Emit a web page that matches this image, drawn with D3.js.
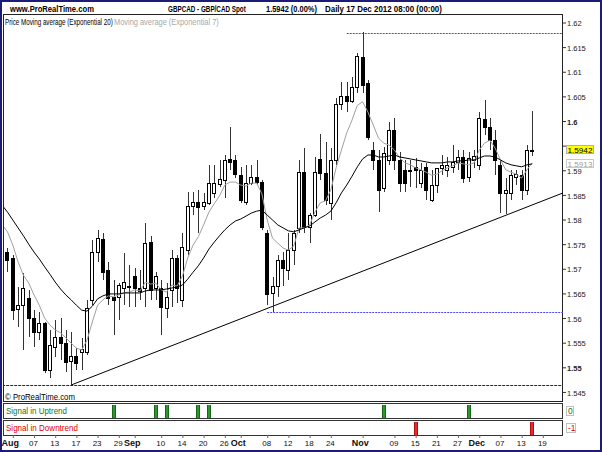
<!DOCTYPE html>
<html>
<head>
<meta charset="utf-8">
<script src="https://cdn.jsdelivr.net/npm/d3@7"></script>
<style>
  body { margin: 0; background: #fff; }
  svg { display: block; }
  text { font-family: "Liberation Sans", Arial, sans-serif; }
</style>
</head>
<body>
<div id="chart"></div>
<script>
// candles start on Jul 31 (index -1), index 0 = 1 Aug 2012, one index per trading day
const candleStart = -1;
const openP = [1.5734,1.5722,1.5618,1.5626,1.5641,1.5600,1.5572,1.5590,1.5495,1.5541,
  1.5562,1.5549,1.5513,1.5523,1.5531,1.5531,1.5637,1.5734,1.5760,1.5698,
  1.5643,1.5643,1.5661,1.5663,1.5685,1.5661,1.5661,1.5754,1.5661,1.5661,
  1.5620,1.5657,1.5722,1.5637,1.5738,1.5827,1.5836,1.5827,1.5834,1.5854,
  1.5872,1.5880,1.5923,1.5921,1.5890,1.5836,1.5874,1.5886,1.5876,1.5773,
  1.5651,1.5665,1.5718,1.5698,1.5738,1.5783,1.5896,1.5785,1.5809,1.5923,
  1.5894,1.5834,1.5921,1.6035,1.6051,1.6041,1.6069,1.6130,1.6077,1.5941,
  1.5921,1.5864,1.5921,1.5982,1.5921,1.5901,1.5901,1.5907,1.5874,1.5907,
  1.5840,1.5870,1.5905,1.5901,1.5907,1.5917,1.5927,1.5886,1.5921,1.5911,
  1.6004,1.5988,1.5961,1.5911,1.5854,1.5854,1.5886,1.5890,1.5860,1.5942];
const highP = [1.5742,1.5728,1.5663,1.5691,1.5657,1.5616,1.5612,1.5592,1.5576,1.5596,
  1.5600,1.5576,1.5572,1.5539,1.5560,1.5637,1.5758,1.5779,1.5773,1.5714,
  1.5677,1.5671,1.5732,1.5708,1.5702,1.5698,1.5793,1.5767,1.5693,1.5677,
  1.5671,1.5738,1.5728,1.5773,1.5856,1.5856,1.5860,1.5854,1.5911,1.5911,
  1.5921,1.5931,1.5988,1.5931,1.5907,1.5911,1.5911,1.5921,1.5880,1.5779,
  1.5683,1.5728,1.5734,1.5773,1.5779,1.5921,1.5945,1.5813,1.5927,1.5974,
  1.5957,1.5945,1.6047,1.6079,1.6079,1.6089,1.6138,1.6181,1.6083,1.5957,
  1.5941,1.5947,1.5998,1.6006,1.5937,1.5921,1.5921,1.5925,1.5915,1.5915,
  1.5901,1.5905,1.5931,1.5927,1.5951,1.5941,1.5941,1.5937,1.5941,1.6018,
  1.6043,1.6006,1.5982,1.5921,1.5884,1.5901,1.5901,1.5901,1.5951,1.6020];
const lowP = [1.5693,1.5596,1.5582,1.5535,1.5562,1.5541,1.5555,1.5488,1.5478,1.5521,
  1.5515,1.5490,1.5464,1.5495,1.5495,1.5525,1.5626,1.5714,1.5677,1.5626,
  1.5566,1.5596,1.5626,1.5622,1.5622,1.5637,1.5622,1.5637,1.5637,1.5566,
  1.5600,1.5622,1.5631,1.5622,1.5728,1.5809,1.5773,1.5819,1.5829,1.5844,
  1.5866,1.5844,1.5901,1.5884,1.5834,1.5829,1.5870,1.5870,1.5779,1.5626,
  1.5612,1.5643,1.5665,1.5677,1.5708,1.5773,1.5773,1.5752,1.5805,1.5880,
  1.5829,1.5799,1.5911,1.6022,1.6018,1.6037,1.6057,1.6057,1.5961,1.5901,
  1.5815,1.5856,1.5911,1.5901,1.5856,1.5856,1.5866,1.5864,1.5864,1.5840,
  1.5836,1.5854,1.5890,1.5886,1.5894,1.5901,1.5874,1.5876,1.5905,1.5901,
  1.5972,1.5941,1.5890,1.5813,1.5811,1.5840,1.5870,1.5840,1.5850,1.5929];
const closeP = [1.5718,1.5616,1.5626,1.5661,1.5600,1.5572,1.5590,1.5495,1.5545,1.5562,
  1.5549,1.5511,1.5523,1.5509,1.5537,1.5620,1.5734,1.5762,1.5693,1.5641,
  1.5637,1.5667,1.5673,1.5665,1.5661,1.5655,1.5752,1.5657,1.5685,1.5622,
  1.5643,1.5722,1.5661,1.5744,1.5827,1.5836,1.5825,1.5836,1.5874,1.5874,
  1.5882,1.5921,1.5917,1.5892,1.5840,1.5874,1.5886,1.5876,1.5785,1.5649,
  1.5665,1.5718,1.5702,1.5738,1.5773,1.5896,1.5785,1.5809,1.5896,1.5894,
  1.5840,1.5921,1.6035,1.6051,1.6041,1.6069,1.6132,1.6073,1.5968,1.5921,
  1.5860,1.5935,1.5982,1.5921,1.5874,1.5874,1.5899,1.5901,1.5901,1.5860,
  1.5870,1.5905,1.5911,1.5911,1.5917,1.5927,1.5884,1.5925,1.5929,1.6006,
  1.5988,1.5961,1.5921,1.5854,1.5860,1.5890,1.5892,1.5860,1.5941,1.5942];

// moving averages, starting at index -2
const emaStart = -2;
const ema20 = [1.5829,1.5815,1.5799,1.5783,1.5767,1.5750,1.5734,1.5720,1.5704,1.5689,1.5673,1.5659,
  1.5647,1.5637,1.5626,1.5616,1.5614,1.5624,1.5639,1.5645,1.5649,1.5649,
  1.5649,1.5651,1.5651,1.5651,1.5651,1.5655,1.5657,1.5657,1.5657,1.5659,
  1.5661,1.5663,1.5667,1.5679,1.5693,1.5706,1.5722,1.5740,1.5754,1.5767,
  1.5779,1.5789,1.5797,1.5801,1.5807,1.5813,1.5817,1.5819,1.5809,1.5799,
  1.5789,1.5783,1.5777,1.5775,1.5779,1.5783,1.5787,1.5795,1.5803,1.5809,
  1.5817,1.5834,1.5854,1.5870,1.5888,1.5907,1.5923,1.5931,1.5931,1.5927,
  1.5927,1.5929,1.5931,1.5927,1.5925,1.5923,1.5921,1.5919,1.5917,1.5915,
  1.5915,1.5915,1.5917,1.5917,1.5919,1.5919,1.5921,1.5921,1.5925,1.5929,
  1.5929,1.5927,1.5921,1.5915,1.5911,1.5909,1.5907,1.5911,1.5913];
const ema7 = [1.5789,1.5775,1.5748,1.5714,1.5687,1.5671,1.5647,1.5626,1.5600,1.5586,1.5576,1.5570,
  1.5560,1.5549,1.5539,1.5535,1.5555,1.5592,1.5626,1.5637,1.5645,1.5643,
  1.5647,1.5651,1.5653,1.5657,1.5655,1.5673,1.5669,1.5671,1.5657,1.5653,
  1.5667,1.5665,1.5685,1.5722,1.5748,1.5765,1.5789,1.5815,1.5832,1.5848,
  1.5870,1.5876,1.5876,1.5870,1.5868,1.5874,1.5874,1.5852,1.5799,1.5762,
  1.5752,1.5742,1.5738,1.5746,1.5783,1.5783,1.5789,1.5815,1.5834,1.5838,
  1.5860,1.5905,1.5941,1.5976,1.6002,1.6032,1.6039,1.6018,1.5992,1.5965,
  1.5955,1.5951,1.5941,1.5925,1.5915,1.5911,1.5905,1.5901,1.5896,1.5890,
  1.5892,1.5899,1.5905,1.5909,1.5915,1.5913,1.5911,1.5915,1.5941,1.5955,
  1.5961,1.5945,1.5921,1.5901,1.5896,1.5892,1.5884,1.5901,1.5915];

// signal bars (candle index)
const upSignals = [19, 27, 29, 35, 37, 70, 86];
const downSignals = [76, 98];

// drawn objects
const trendIdx = [11, 103.8];
const trendPrice = [1.5464, 1.5854];
const levelPrice = [1.6179, 1.5612, 1.5464];
const levelFrom = [63, 48, -2];

// axes
const priceTicks = [1.545,1.55,1.555,1.56,1.565,1.57,1.575,1.58,1.585,1.59,1.595,1.6,1.605,1.61,1.615,1.62];
const boldTicks = [1.55, 1.6];
const coveredTick = 1.595;
const tickIdx = [0,4,8,12,16,20,23,28,32,36,40,43,48,52,56,60,66,72,76,80,84,88,92,96,100];
const tickLabels = ["Aug","07","13","17","23","29","Sep","10","14","20","26","Oct","08","12","18","24","Nov","09","15","21","27","Dec","07","13","19"];
const monthLabels = ["Aug","Sep","Oct","Nov","Dec"];
const lastPrice = 1.5942;
const lastAvg = 1.5913;

const W = 602, H = 452;
const plot = { left: 4, right: 563, top: 15, bottom: 401 };

const svg = d3.select("#chart").append("svg")
  .attr("width", W).attr("height", H);

svg.append("rect").attr("width", W).attr("height", H).attr("fill", "#fff");

const x = d3.scaleLinear().domain([-1.66, 103.8]).range([plot.left, plot.right]);
const y = d3.scaleLinear().domain([1.54316, 1.62152]).range([plot.bottom, plot.top]);

const defs = svg.append("defs");
defs.append("clipPath").attr("id", "plot-clip")
  .append("rect")
  .attr("x", plot.left).attr("y", plot.top)
  .attr("width", plot.right - plot.left).attr("height", plot.bottom - plot.top);

function barGradient(id, edge, mid) {
  const g = defs.append("linearGradient").attr("id", id).attr("x1", "0%").attr("x2", "100%");
  g.selectAll("stop")
    .data([{o: "0%", c: edge}, {o: "50%", c: mid}, {o: "100%", c: edge}])
    .join("stop")
    .attr("offset", d => d.o).attr("stop-color", d => d.c);
}
barGradient("grad-up", "#0b4f0b", "#38b038");
barGradient("grad-down", "#9a0000", "#ff3a3a");

// text squeezed horizontally to the width it has in the reference
function label(g, x0, y0, s, size, len, color, weight) {
  const t = g.append("text")
    .attr("font-size", size)
    .attr("fill", color || "#000")
    .attr("font-weight", weight || "normal")
    .text(s);
  let k = 1;
  if (len) k = len / t.node().getComputedTextLength();
  t.attr("transform", `translate(${x0},${y0}) scale(${k},1)`);
  return t;
}

// header
label(svg, 10, 11.5, "www.ProRealTime.com", 9.5, 84, "#000", "bold");
label(svg, 168, 11.5, "GBPCAD - GBP/CAD Spot", 9.5, 78, "#000", "bold");
label(svg, 266, 11.5, "1.5942 (0.00%)", 9.5, 51, "#000", "bold");
label(svg, 325, 11.5, "Daily  17 Dec 2012 08:00 (00:00)", 9.5, 117, "#000", "bold");

// plot frame
svg.append("rect")
  .attr("x", plot.left - 0.5).attr("y", plot.top - 0.5)
  .attr("width", plot.right - plot.left).attr("height", plot.bottom - plot.top + 1)
  .attr("fill", "none").attr("stroke", "#222");

const chart = svg.append("g").attr("clip-path", "url(#plot-clip)");

// horizontal levels
levelPrice.forEach((p, k) => {
  const yy = Math.round(y(p)) + 0.5;
  chart.append("line")
    .attr("x1", x(levelFrom[k])).attr("x2", plot.right)
    .attr("y1", yy).attr("y2", yy)
    .attr("stroke", k < 2 ? "#4a4aee" : "#1a1aa8")
    .attr("stroke-dasharray", k < 2 ? "2,1" : "3,1");
});

// trend line
chart.append("line")
  .attr("x1", x(trendIdx[0])).attr("y1", y(trendPrice[0]))
  .attr("x2", x(trendIdx[1])).attr("y2", y(trendPrice[1]))
  .attr("stroke", "#000").attr("stroke-width", 1);

// candles
const candles = openP.map((o, k) => ({
  i: candleStart + k, o, h: highP[k], l: lowP[k], c: closeP[k]
}));

const cg = chart.append("g").attr("shape-rendering", "crispEdges");
cg.selectAll("line.wick")
  .data(candles)
  .join("line")
  .attr("class", "wick")
  .attr("x1", d => Math.round(x(d.i)) + 0.5)
  .attr("x2", d => Math.round(x(d.i)) + 0.5)
  .attr("y1", d => y(d.h))
  .attr("y2", d => y(d.l))
  .attr("stroke", "#333");

cg.selectAll("rect.body")
  .data(candles)
  .join("rect")
  .attr("class", "body")
  .attr("x", d => Math.round(x(d.i)) - 1.5)
  .attr("width", 3)
  .attr("y", d => Math.round(y(Math.max(d.o, d.c))) + 0.5)
  .attr("height", d => Math.max(0.5, Math.round(Math.abs(y(d.o) - y(d.c)))))
  .attr("fill", d => d.c >= d.o ? "#fff" : "#000")
  .attr("stroke", "#000");

// moving averages
const emaLine = d3.line()
  .x((d, k) => x(emaStart + k))
  .y(d => y(d));

chart.append("path")
  .datum(ema7)
  .attr("d", emaLine)
  .attr("fill", "none")
  .attr("stroke", "#a0a0a0")
  .attr("stroke-width", 1);

chart.append("path")
  .datum(ema20)
  .attr("d", emaLine)
  .attr("fill", "none")
  .attr("stroke", "#000")
  .attr("stroke-width", 1);

// legend + copyright
label(svg, 5, 25, "Price Moving average (Exponential 20)", 8.5, 108);
label(svg, 114, 25, "Moving average (Exponential 7)", 8.5, 105, "#a8a8a8");
label(svg, 5, 399.5, "\u00a9 ProRealTime.com", 8.5, 70);

// price axis
const yAxis = d3.axisRight(y)
  .tickValues(priceTicks)
  .tickSize(3)
  .tickPadding(1)
  .tickFormat(d => String(d));

const ya = svg.append("g")
  .attr("transform", `translate(${plot.right},0)`)
  .attr("font-family", "Liberation Sans, Arial, sans-serif")
  .call(yAxis);
ya.select(".domain").remove();
ya.selectAll(".tick line").attr("stroke", "#333");
ya.selectAll(".tick text")
  .attr("font-size", 7.5)
  .attr("fill", "#222")
  .attr("dy", "0.42em")
  .attr("font-weight", d => boldTicks.includes(d) ? "bold" : "normal");
// this label sits under the last-price box
ya.selectAll(".tick text").filter(d => d === coveredTick).remove();

// last price and average boxes
function valueBox(p, fill, stroke, color, s) {
  const yy = Math.round(y(p));
  svg.append("rect")
    .attr("x", 566.5).attr("y", yy - 4.5)
    .attr("width", 27).attr("height", 8)
    .attr("fill", fill).attr("stroke", stroke);
  label(svg, 567.5, yy + 2.5, s, 7.5, 25, color);
}
valueBox(lastAvg, "#fff", "#c8c8c8", "#a0a0a0", "1.5913");
valueBox(lastPrice, "#ffff00", "#b0b0b0", "#000", "1.5942");

// signal panels
const panels = [
  { top: 404, name: "Signal in Uptrend", color: "#137513", idx: upSignals, grad: "grad-up", val: "0", len: 61, bw: 7 },
  { top: 421, name: "Signal in Downtrend", color: "#e00000", idx: downSignals, grad: "grad-down", val: "-1", len: 72, bw: 9 }
];
panels.forEach(pn => {
  svg.append("rect")
    .attr("x", plot.left - 0.5).attr("y", pn.top - 0.5)
    .attr("width", plot.right - plot.left).attr("height", 15)
    .attr("fill", "#fff").attr("stroke", "#333");
  svg.append("g")
    .selectAll("rect")
    .data(pn.idx)
    .join("rect")
    .attr("x", d => Math.round(x(d)) - 2)
    .attr("y", pn.top + 1)
    .attr("width", 4)
    .attr("height", 13)
    .attr("fill", `url(#${pn.grad})`);
  label(svg, 6, pn.top + 9.5, pn.name, 8.5, pn.len, pn.color);
  svg.append("rect")
    .attr("x", 566.5).attr("y", pn.top + 2.5)
    .attr("width", pn.bw).attr("height", 9)
    .attr("fill", "#fff").attr("stroke", "#c0c0c0");
  label(svg, 568, pn.top + 10, pn.val, 8.5, null, pn.color);
});

// date axis
const xAxis = d3.axisBottom(x)
  .tickValues(tickIdx)
  .tickSize(3)
  .tickPadding(2)
  .tickFormat((d, k) => tickLabels[k]);

const xa = svg.append("g")
  .attr("transform", "translate(0,435)")
  .attr("font-family", "Liberation Sans, Arial, sans-serif")
  .call(xAxis);
xa.select(".domain").remove();
xa.selectAll(".tick line").attr("stroke", "#666");
xa.selectAll(".tick text")
  .attr("fill", "#111")
  .attr("font-size", (d, k) => monthLabels.includes(tickLabels[k]) ? 9 : 8)
  .attr("font-weight", (d, k) => monthLabels.includes(tickLabels[k]) ? "bold" : "normal")
  .attr("dx", (d, k) => monthLabels.includes(tickLabels[k]) ? -3 : -1);

// outer frame
svg.append("rect")
  .attr("x", 1).attr("y", 1).attr("width", W - 2).attr("height", H - 2)
  .attr("fill", "none").attr("stroke", "#1c1c78").attr("stroke-width", 2);
</script>
</body>
</html>
